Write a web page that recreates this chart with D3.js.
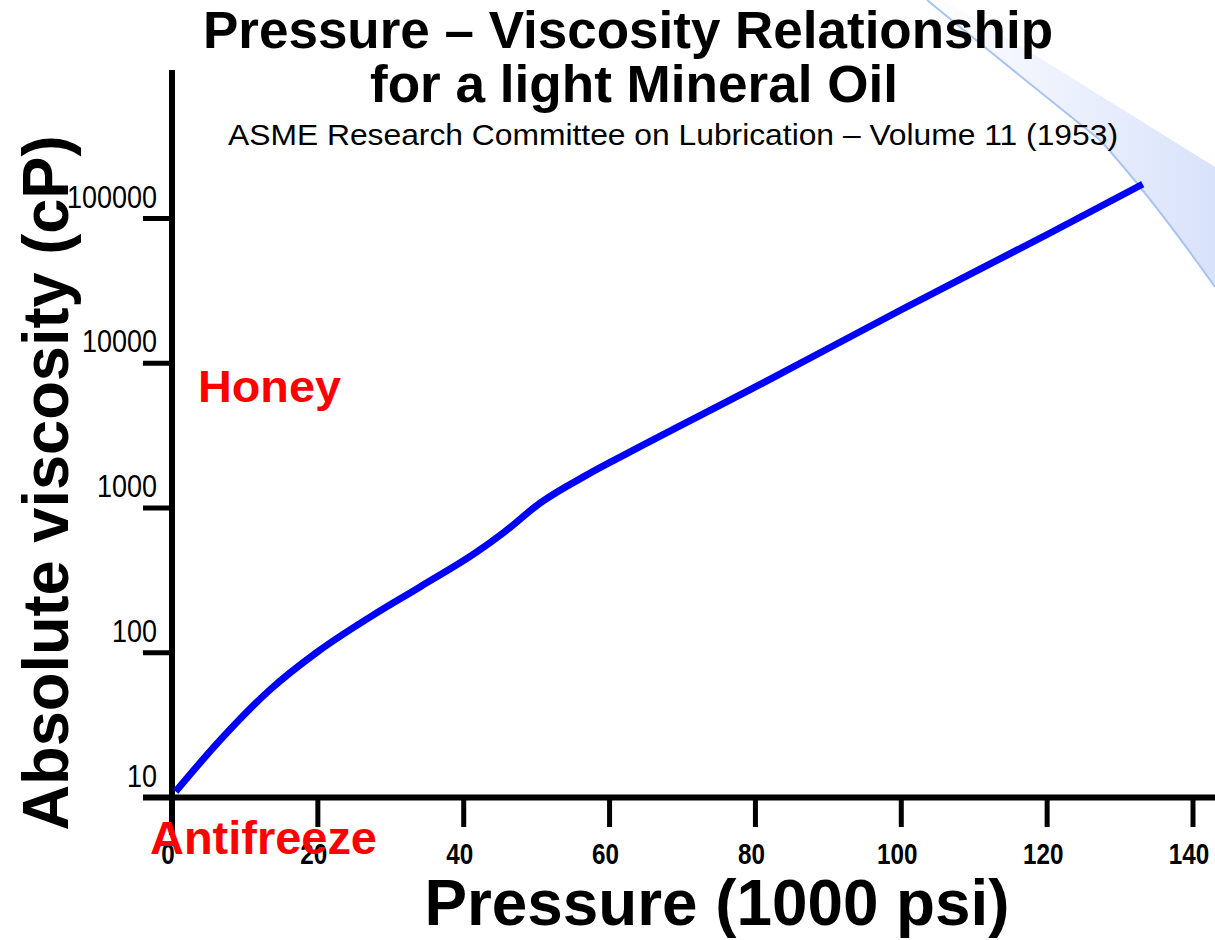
<!DOCTYPE html>
<html>
<head>
<meta charset="utf-8">
<script src="https://cdn.jsdelivr.net/npm/d3@7"></script>
<style>
  body { margin: 0; background: #fff; }
  svg { display: block; font-family: "Liberation Sans", Arial, sans-serif; }
</style>
</head>
<body>
<script>
// pressure in 1000 psi, viscosity in cP
var pressure  = [0.5, 6.6, 13.4, 19.9, 27.2, 34.0, 41.8, 45.4, 50.5, 56.9, 62.8, 80, 100.2, 120.4, 133.1]
var viscosity = [11, 24.9, 55.3, 101, 177, 285, 497, 672, 1084, 1693, 2439, 6860, 23700, 79400, 172600]

var xTicks = [0, 20, 40, 60, 80, 100, 120, 140]
var yTicks = [10, 100, 1000, 10000, 100000]

var W = 1215, H = 940

var svg = d3.select('body').append('svg')
    .attr('width', W)
    .attr('height', H)

var x = d3.scaleLinear().domain([0, 140]).range([172, 1193])
var y = d3.scaleLog().domain([10, 100000]).range([797.5, 218.5])

// decorative wedge in the top right corner
var defs = svg.append('defs')
var grad = defs.append('linearGradient')
    .attr('id', 'wedge')
    .attr('x1', '0%').attr('x2', '100%')
    .attr('y1', '0%').attr('y2', '0%')
grad.append('stop').attr('offset', '0%').attr('stop-color', '#ffffff')
grad.append('stop').attr('offset', '100%').attr('stop-color', '#d8e2fb')

svg.append('path')
    .attr('d', 'M927,0 L943,0 L1043,60 L1215,167 L1215,287 Q1150,195 1100,140 Q1000,60 927,0 Z')
    .attr('fill', 'url(#wedge)')
svg.append('path')
    .attr('d', 'M927,0 Q1000,60 1100,140 Q1150,195 1215,287')
    .attr('fill', 'none')
    .attr('stroke', '#a9c3f3')
    .attr('stroke-width', 2)

// titles
svg.append('text')
    .attr('x', 628).attr('y', 48)
    .attr('text-anchor', 'middle')
    .attr('font-weight', 'bold')
    .attr('font-size', 51)
    .attr('textLength', 850).attr('lengthAdjust', 'spacingAndGlyphs')
    .text('Pressure \u2013 Viscosity Relationship')

svg.append('text')
    .attr('x', 634).attr('y', 102)
    .attr('text-anchor', 'middle')
    .attr('font-weight', 'bold')
    .attr('font-size', 51)
    .attr('textLength', 528).attr('lengthAdjust', 'spacingAndGlyphs')
    .text('for a light Mineral Oil')

svg.append('text')
    .attr('x', 673).attr('y', 145)
    .attr('text-anchor', 'middle')
    .attr('font-size', 29)
    .attr('textLength', 890).attr('lengthAdjust', 'spacingAndGlyphs')
    .text('ASME Research Committee on Lubrication \u2013 Volume 11 (1953)')

// axes
var axisG = svg.append('g')

axisG.append('line')
    .attr('x1', 172).attr('x2', 172)
    .attr('y1', 70).attr('y2', 835)
    .attr('stroke', '#000').attr('stroke-width', 6)

axisG.append('line')
    .attr('x1', 143).attr('x2', W)
    .attr('y1', y(10)).attr('y2', y(10))
    .attr('stroke', '#000').attr('stroke-width', 6)

axisG.selectAll('line.ytick')
    .data(yTicks)
    .enter().append('line')
      .attr('class', 'ytick')
      .attr('x1', 143).attr('x2', 172)
      .attr('y1', d => y(d)).attr('y2', d => y(d))
      .attr('stroke', '#000').attr('stroke-width', 5)

axisG.selectAll('text.ytick')
    .data(yTicks)
    .enter().append('text')
      .attr('class', 'ytick')
      .attr('x', 157)
      .attr('y', d => y(d) - 11)
      .attr('text-anchor', 'end')
      .attr('font-size', 31)
      .attr('textLength', d => String(d).length * 15)
      .attr('lengthAdjust', 'spacingAndGlyphs')
      .text(d => d)

axisG.selectAll('line.xtick')
    .data(xTicks.slice(1))
    .enter().append('line')
      .attr('class', 'xtick')
      .attr('x1', d => x(d)).attr('x2', d => x(d))
      .attr('y1', y(10)).attr('y2', 827)
      .attr('stroke', '#000').attr('stroke-width', 5)

axisG.selectAll('text.xtick')
    .data(xTicks)
    .enter().append('text')
      .attr('class', 'xtick')
      .attr('x', d => x(d) - 4)
      .attr('y', 864)
      .attr('text-anchor', 'middle')
      .attr('font-weight', 'bold')
      .attr('font-size', 30)
      .attr('textLength', d => String(d).length * 13.5)
      .attr('lengthAdjust', 'spacingAndGlyphs')
      .text(d => d)

// axis titles
svg.append('text')
    .attr('transform', 'translate(68,483) rotate(-90)')
    .attr('text-anchor', 'middle')
    .attr('font-weight', 'bold')
    .attr('font-size', 64)
    .attr('textLength', 695).attr('lengthAdjust', 'spacingAndGlyphs')
    .text('Absolute viscosity (cP)')

svg.append('text')
    .attr('x', 717).attr('y', 925)
    .attr('text-anchor', 'middle')
    .attr('font-weight', 'bold')
    .attr('font-size', 64)
    .attr('textLength', 585).attr('lengthAdjust', 'spacingAndGlyphs')
    .text('Pressure (1000 psi)')

// the curve
var line = d3.line()
    .x((d, i) => x(pressure[i]))
    .y(d => y(d))
    .curve(d3.curveMonotoneX)

svg.append('path')
    .datum(viscosity)
    .attr('d', line)
    .attr('fill', 'none')
    .attr('stroke', '#0000ff')
    .attr('stroke-width', 7)

// reference fluids
svg.append('text')
    .attr('x', 198).attr('y', 402)
    .attr('font-weight', 'bold')
    .attr('font-size', 45)
    .attr('fill', '#ff0000')
    .attr('textLength', 143).attr('lengthAdjust', 'spacingAndGlyphs')
    .text('Honey')

svg.append('text')
    .attr('x', 150).attr('y', 854)
    .attr('font-weight', 'bold')
    .attr('font-size', 47)
    .attr('fill', '#ff0000')
    .attr('textLength', 227).attr('lengthAdjust', 'spacingAndGlyphs')
    .text('Antifreeze')
</script>
</body>
</html>
